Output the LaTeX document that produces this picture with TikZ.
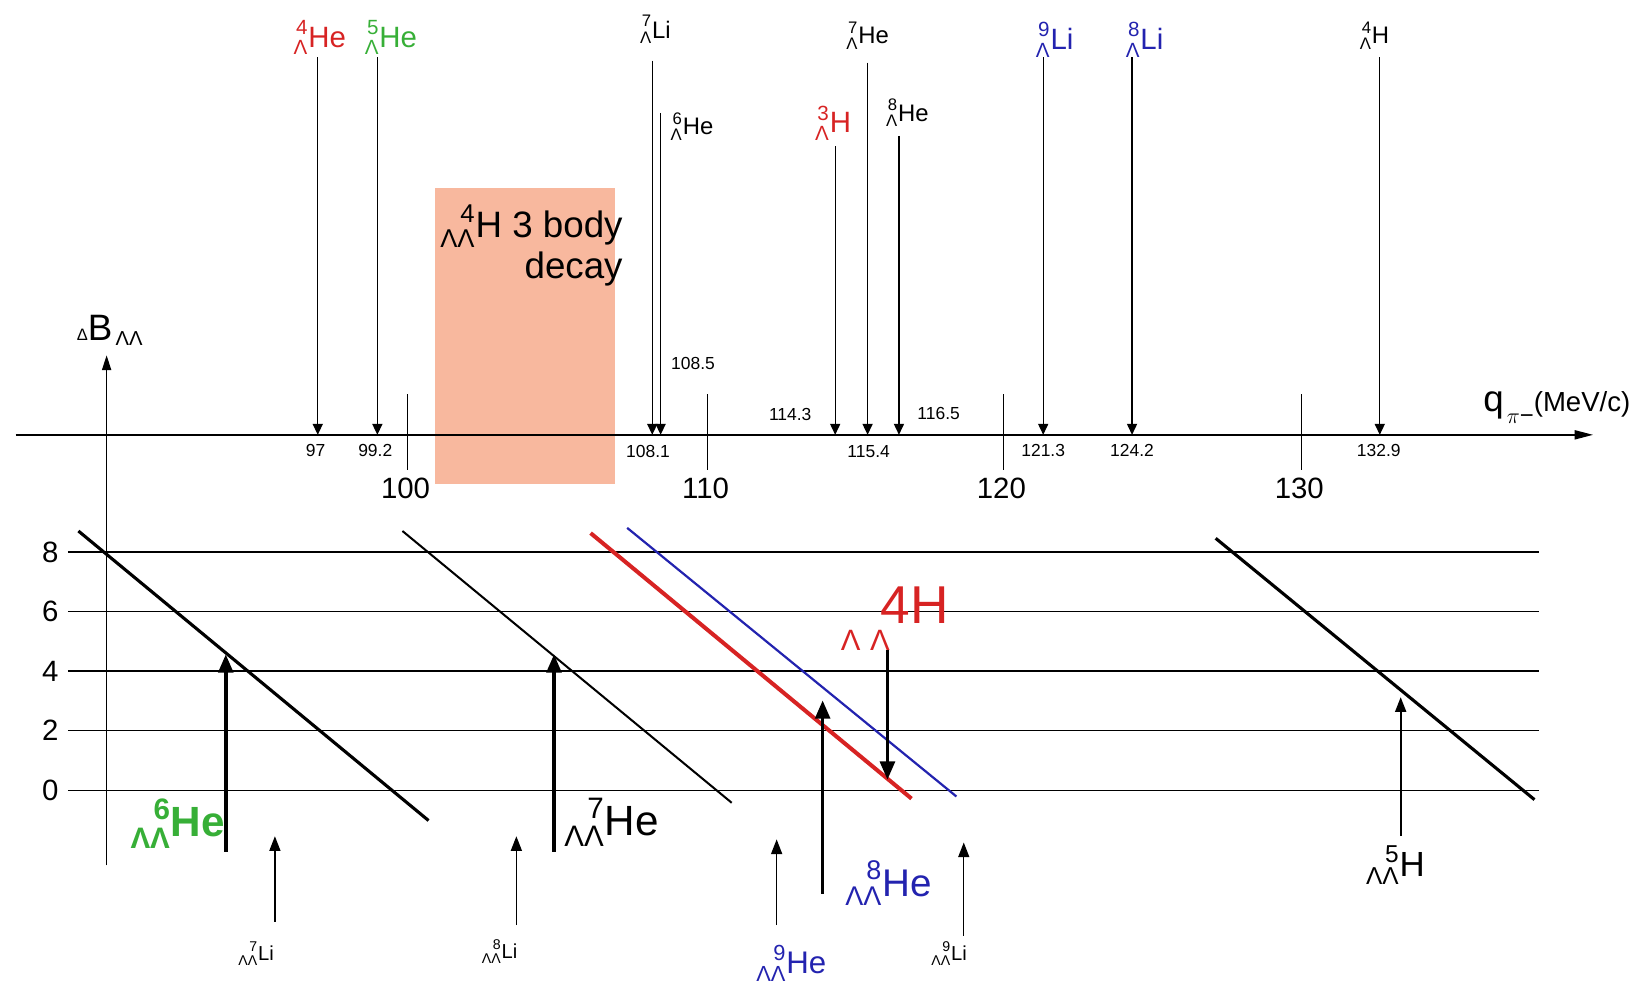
\documentclass[tikz,border=0pt]{standalone}
\usepackage{amsmath,mathtools}
\usepackage{fontspec}
\setmainfont{Liberation Sans}
\usetikzlibrary{arrows.meta,positioning}
\definecolor{lred}{RGB}{215,35,35}
\definecolor{lgrn}{RGB}{55,175,55}
\definecolor{lblu}{RGB}{35,35,175}
\definecolor{salmon}{RGB}{248,184,158}
\tikzset{
  axisln/.style={line width=0.75pt},
  darr/.style={-{Triangle[length=6pt,width=5.5pt]},line width=0.75pt},
  uarr/.style={-{Triangle[length=8pt,width=6pt]},line width=0.8pt},
  barr/.style={-{Triangle[length=10pt,width=8pt]},line width=2pt},
  diag/.style={line width=1.7pt},
  vallbl/.style={font=\fontsize{9.5}{10}\selectfont,inner sep=0pt},
  ticklbl/.style={font=\fontsize{16}{16}\selectfont,inner sep=0pt},
  toplbl/.style={font=\fontsize{13}{13}\selectfont,inner sep=0pt},
  colbl/.style={font=\fontsize{16}{16}\selectfont,inner sep=0pt},
  biglbl/.style={font=\fontsize{23}{23}\selectfont,inner sep=0pt},
  smlbl/.style={font=\fontsize{11}{11}\selectfont,inner sep=0pt},
}
\newcommand{\nuc}[3]{\ensuremath{\prescript{\text{#1}}{\text{#2}}{\text{#3}}}}

\begin{document}
\begin{tikzpicture}[x=0.2mm,y=-0.2mm]
  \useasboundingbox (0,0) rectangle (1568,950);
  % 3 body band
  \fill[salmon] (416,180) rectangle (588,463);
  \node[align=right,anchor=north east,inner sep=0pt,
    font=\fontsize{20}{22}\selectfont] (band) at (596,196)
    {\nuc{4}{ΛΛ}{H} 3 body\\decay};

  % q axis
  \coordinate (q0) at (15,416);
  \coordinate (q1) at (1524,416);
  \draw[axisln,-{Triangle[length=10pt,width=5pt]}] (q0) -- (q1);
  \node[anchor=east,inner sep=0pt] (qlbl) at (1560,390)
    {{\fontsize{20}{20}\selectfont q}\,\raisebox{-1.2ex}{\fontsize{13}{13}\selectfont $\pi$−}{\fontsize{15}{15}\selectfont(MeV/c)}};
  \foreach \x/\v in {390/100,677/110,960/120,1245/130} {
    \draw[axisln] (\x,377) -- (\x,450);
    \node[ticklbl] (k\v) at (\x-2,467) {\v};
  }

  % decay lines
  \foreach \n/\x/\y in {a/304/55,b/361/55,c/624/58,d/632/108,e/799/140,
      f/830/60,g/860/130,h/998/55,i/1083/55,j/1320/55} {
    \coordinate (s\n) at (\x,\y);
    \coordinate (e\n) at (\x,416);
    \draw[darr] (s\n) -- (e\n);
  }
  \node[vallbl] (va) at (302,431) {97};
  \node[vallbl] (vb) at (359,431) {99.2};
  \node[vallbl] (vc) at (620,432) {108.1};
  \node[vallbl] (vd) at (663,348) {108.5};
  \node[vallbl] (ve) at (756,397) {114.3};
  \node[vallbl] (vf) at (831,432) {115.4};
  \node[vallbl] (vg) at (898,396) {116.5};
  \node[vallbl] (vh) at (998,431) {121.3};
  \node[vallbl] (vi) at (1083,431) {124.2};
  \node[vallbl] (vj) at (1319,431) {132.9};

  \node[colbl,text=lred] (na) at (306,36) {\nuc{4}{Λ}{He}};
  \node[colbl,text=lgrn] (nb) at (374,36) {\nuc{5}{Λ}{He}};
  \node[toplbl] (nc) at (627,28) {\nuc{7}{Λ}{Li}};
  \node[toplbl] (nd) at (662,121) {\nuc{6}{Λ}{He}};
  \node[colbl,text=lred] (ne) at (797,118) {\nuc{3}{Λ}{H}};
  \node[toplbl] (nf) at (830,34) {\nuc{7}{Λ}{He}};
  \node[toplbl] (ng) at (868,108) {\nuc{8}{Λ}{He}};
  \node[colbl,text=lblu] (nh) at (1009,38) {\nuc{9}{Λ}{Li}};
  \node[colbl,text=lblu] (ni) at (1095,38) {\nuc{8}{Λ}{Li}};
  \node[toplbl] (nj) at (1315,34) {\nuc{4}{Λ}{H}};

  % Delta B plot
  \coordinate (b0) at (102,828);
  \coordinate (b1) at (102,340);
  \draw[axisln,-{Triangle[length=8pt,width=5pt]}] (b0) -- (b1);
  \node[inner sep=0pt] (dB) at (105,316)
    {{\fontsize{9}{9}\selectfont Δ}{\fontsize{20}{20}\selectfont B}\raisebox{-0.6ex}{\fontsize{11}{11}\selectfont\,ΛΛ}};
  \foreach \b in {0,2,4,6,8} {
    \draw[axisln] (65,756-\b*28.5) -- (1472,756-\b*28.5);
    \node[ticklbl] (g\b) at (48,756-\b*28.5) {\b};
  }
  \draw[diag] (75,508) -- (410,785);
  \draw[line width=1.1pt] (385,508) -- (700,768);
  \draw[diag,lred,line width=2.2pt] (565,510) -- (872,764);
  \draw[lblu,line width=1.2pt] (600,505) -- (915,762);
  \draw[diag] (1163,515) -- (1468,765);

  % LL hypernuclei
  \coordinate (u1) at (216,815); \coordinate (w1) at (216,626);
  \coordinate (u2) at (530,815); \coordinate (w2) at (530,626);
  \coordinate (u3) at (787,855); \coordinate (w3) at (787,670);
  \coordinate (u4) at (849,622); \coordinate (w4) at (849,746);
  \coordinate (u5) at (1340,800); \coordinate (w5) at (1340,667);
  \draw[barr] (u1) -- (w1);
  \draw[barr] (u2) -- (w2);
  \draw[barr] (u3) -- (w3);
  \draw[barr] (u4) -- (w4);
  \draw[uarr,line width=1pt] (u5) -- (w5);
  \node[biglbl,text=lgrn,font=\fontsize{23}{23}\selectfont\bfseries] (m1) at (170,788) {\nuc{6}{ΛΛ}{He}};
  \node[biglbl] (m2) at (585,787) {\nuc{7}{ΛΛ}{He}};
  \node[biglbl,text=lblu,font=\fontsize{21}{21}\selectfont] (m3) at (850,845) {\nuc{8}{ΛΛ}{He}};
  \node[biglbl,text=lred,font=\fontsize{29}{29}\selectfont] (m4) at (856,592)
    {\raisebox{-0.5em}{\fontsize{16}{16}\selectfont Λ\,\,Λ}\kern-5pt 4H};
  \node[biglbl,font=\fontsize{19}{19}\selectfont] (m5) at (1335,828) {\nuc{5}{ΛΛ}{H}};

  \coordinate (p1) at (263,882); \coordinate (r1) at (263,800);
  \coordinate (p2) at (494,885); \coordinate (r2) at (494,800);
  \coordinate (p3) at (743,885); \coordinate (r3) at (743,803);
  \coordinate (p4) at (922,895); \coordinate (r4) at (922,806);
  \foreach \i in {1,...,4} \draw[uarr] (p\i) -- (r\i);
  \node[smlbl] (l1) at (245,912) {\nuc{7}{ΛΛ}{Li}};
  \node[smlbl] (l2) at (478,910) {\nuc{8}{ΛΛ}{Li}};
  \node[biglbl,text=lblu,font=\fontsize{17}{17}\selectfont] (l3) at (757,922) {\nuc{9}{ΛΛ}{He}};
  \node[smlbl] (l4) at (908,912) {\nuc{9}{ΛΛ}{Li}};
\end{tikzpicture}
\end{document}
